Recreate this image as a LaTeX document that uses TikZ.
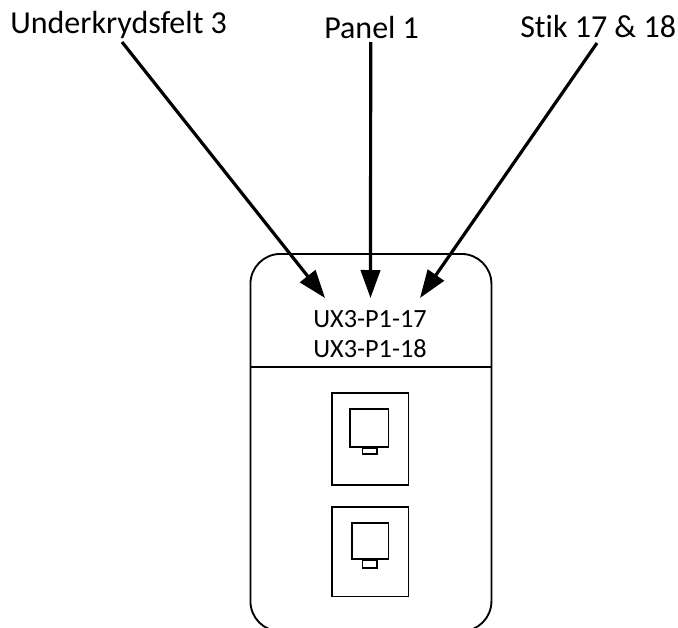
\documentclass[tikz,border=0pt]{standalone}
\usepackage{fontspec}
\setmainfont[Ligatures=NoCommon]{Carlito}
\usetikzlibrary{arrows.meta}
\tikzset{
  plate/.style={draw, line width=1.4pt, minimum width=180.75pt, minimum height=283pt, rounded corners=22.5pt, inner sep=0pt},
  jackbox/.style={draw, line width=1.2pt, inner sep=0pt},
  callout/.style={font=\fontsize{24}{24}\selectfont, inner sep=0pt, anchor=base west},
  tag/.style={font=\fontsize{19.7}{19.7}\selectfont, inner sep=0pt, anchor=base},
  pointer/.style={line width=2.4pt, -{Triangle[length=21pt, width=14.5pt]}},
}
\begin{document}
\begin{tikzpicture}[x=0.75pt, y=-0.75pt]
  \useasboundingbox (0,0) rectangle (678,628);

  % face plate, runs off the bottom edge
  \node[plate, anchor=north west] (faceplate) at (249.5,253) {};
  \draw[line width=1.4pt] (faceplate.west |- 0,367) coordinate (divl) -- (faceplate.east |- 0,367) coordinate (divr);

  \node[tag] (labela) at (370,327) {UX3-P1-17};
  \node[tag] (labelb) at (370,357) {UX3-P1-18};

  % upper jack
  \node[jackbox, minimum width=57.4pt, minimum height=69pt] (jacka) at (370.25,439) {};
  \node[jackbox, minimum width=28.9pt, minimum height=28.5pt] (porta) at (369.25,428) {};
  \node[jackbox, anchor=north, minimum width=10.9pt, minimum height=4.5pt] (taba) at (369.75,447) {};

  % lower jack
  \node[jackbox, minimum width=57.4pt, minimum height=67pt] (jackb) at (370.25,551.75) {};
  \node[jackbox, minimum width=27.4pt, minimum height=27pt] (portb) at (370.25,541) {};
  \node[jackbox, anchor=north, minimum width=10.9pt, minimum height=6pt] (tabb) at (369.75,559) {};

  \node[callout] (under) at (10,33) {Underkrydsfelt 3};
  \node[callout] (panel) at (324,38) {Panel 1};
  \node[callout] (stik) at (520,37.5) {Stik 17 \& 18};

  \coordinate (starta) at (122,42);
  \coordinate (startb) at (370.7,42);
  \coordinate (startc) at (597,43);
  \coordinate (tipa) at (325,298);
  \coordinate (tipb) at (370.5,298);
  \coordinate (tipc) at (420,298);

  \draw[pointer] (starta) -- (tipa);
  \draw[pointer] (startb) -- (tipb);
  \draw[pointer] (startc) -- (tipc);
\end{tikzpicture}
\end{document}
